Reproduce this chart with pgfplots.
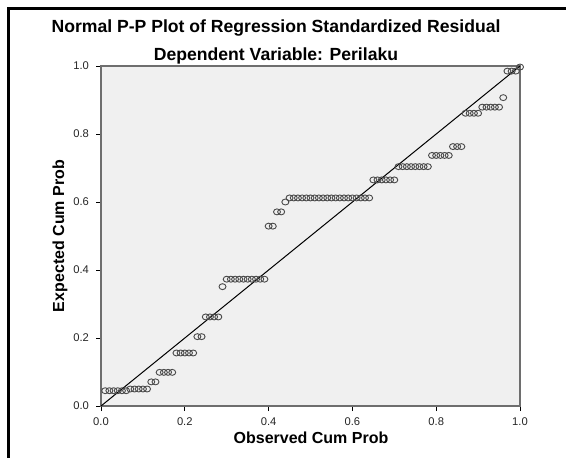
\documentclass[border=0pt]{standalone}
\usepackage{pgfplots}
\usepackage{pgfplotstable}
\pgfplotsset{compat=1.18}
\usepackage{fontspec}
\setmainfont{Liberation Sans}

\definecolor{plotbg}{HTML}{F0F0F0}
\definecolor{frame}{HTML}{6E6E6E}
\definecolor{pts}{HTML}{4A4A4A}

\pgfplotstableread{
obs exp
0.01 0.045
0.02 0.045
0.03 0.045
0.04 0.045
0.05 0.045
0.06 0.045
0.07 0.050
0.08 0.050
0.09 0.050
0.10 0.050
0.11 0.050
0.12 0.071
0.13 0.071
0.14 0.099
0.15 0.099
0.16 0.099
0.17 0.099
0.18 0.156
0.19 0.156
0.20 0.156
0.21 0.156
0.22 0.156
0.23 0.204
0.24 0.204
0.25 0.262
0.26 0.262
0.27 0.262
0.28 0.262
0.29 0.351
0.30 0.373
0.31 0.373
0.32 0.373
0.33 0.373
0.34 0.373
0.35 0.373
0.36 0.373
0.37 0.373
0.38 0.373
0.39 0.373
0.40 0.529
0.41 0.529
0.42 0.571
0.43 0.571
0.44 0.600
0.45 0.612
0.46 0.612
0.47 0.612
0.48 0.612
0.49 0.612
0.50 0.612
0.51 0.612
0.52 0.612
0.53 0.612
0.54 0.612
0.55 0.612
0.56 0.612
0.57 0.612
0.58 0.612
0.59 0.612
0.60 0.612
0.61 0.612
0.62 0.612
0.63 0.612
0.64 0.612
0.65 0.665
0.66 0.665
0.67 0.665
0.68 0.665
0.69 0.665
0.70 0.665
0.71 0.704
0.72 0.704
0.73 0.704
0.74 0.704
0.75 0.704
0.76 0.704
0.77 0.704
0.78 0.704
0.79 0.737
0.80 0.737
0.81 0.737
0.82 0.737
0.83 0.737
0.84 0.763
0.85 0.763
0.86 0.763
0.87 0.861
0.88 0.861
0.89 0.861
0.90 0.861
0.91 0.879
0.92 0.879
0.93 0.879
0.94 0.879
0.95 0.879
0.96 0.907
0.97 0.985
0.98 0.985
0.99 0.985
1.00 0.997
}\pp

\begin{document}
\begin{tikzpicture}[x=0.5pt,y=0.5pt]
\useasboundingbox (0,0) rectangle (566,457);
\fill[white] (0,0) rectangle (566,457);
\draw[line width=1.5pt] (8.5,-5) -- (8.5,448.5) -- (570,448.5);

\begin{axis}[
  at={(50.5pt,25.5pt)}, anchor=south west,
  scale only axis, width=209.5pt, height=170pt,
  xmin=0, xmax=1, ymin=0, ymax=1,
  axis background/.style={fill=plotbg},
  axis line style={draw=frame, line width=1pt},
  xtick={0,0.2,...,1}, ytick={0,0.2,...,1},
  xtick pos=bottom, ytick pos=left,
  tick align=outside, major tick length=2.5pt,
  tick style={black, line width=0.5pt},
  tick label style={font=\fontsize{5.6}{6}\selectfont, text=black!85},
  /pgf/number format/assume math mode=true,
  /pgf/number format/.cd, fixed, fixed zerofill, precision=1,
  /pgfplots/.cd,
  clip=false,
]
\addplot[black, line width=0.5pt] coordinates {(0,0) (1,1)};
\addplot[only marks, mark=o, mark size=1.75pt,
  mark options={draw=pts, line width=0.45pt, yscale=0.85}] table[x=obs, y=exp] {\pp};
\end{axis}

\node[font=\bfseries\fontsize{8.8}{10}\selectfont] at (276,429) {Normal P-P Plot of Regression Standardized Residual};
\node[font=\bfseries\fontsize{8.8}{10}\selectfont] at (276,401) {Dependent Variable: Perilaku};
\node[font=\bfseries\fontsize{8}{9}\selectfont] at (311,19) {Observed Cum Prob};
\node[font=\bfseries\fontsize{8}{9}\selectfont, rotate=90] at (60,221) {Expected Cum Prob};
\end{tikzpicture}
\end{document}
